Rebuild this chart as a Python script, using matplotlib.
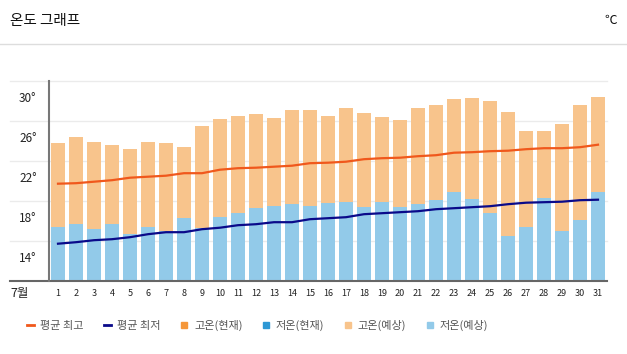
import numpy as np
from matplotlib import pyplot as plt
from matplotlib.lines import Line2D

plt.rcParams['font.family'] = ['Noto Sans CJK KR', 'DejaVu Sans']

# 데이터 (7월)
days = list(range(1, 32))
fc_high = [25.8, 26.4, 25.9, 25.6, 25.2, 25.9, 25.8, 25.4, 27.5, 28.2,
           28.5, 28.7, 28.3, 29.1, 29.1, 28.5, 29.3, 28.8, 28.4, 28.1,
           29.3, 29.6, 30.2, 30.3, 30.0, 28.9, 27.0, 27.0, 27.7, 29.6, 30.4]
fc_low = [17.4, 17.7, 17.2, 17.7, 16.7, 17.4, 17.0, 18.3, 17.3, 18.4,
          18.8, 19.3, 19.5, 19.7, 19.5, 19.8, 19.9, 19.4, 19.9, 19.4,
          19.7, 20.1, 20.9, 20.2, 18.8, 16.5, 17.4, 20.3, 17.0, 18.1, 20.9]
avg_high = [21.7, 21.75, 21.9, 22.05, 22.3, 22.4, 22.5, 22.75, 22.75, 23.1,
            23.25, 23.3, 23.4, 23.5, 23.75, 23.8, 23.9, 24.15, 24.25, 24.3,
            24.45, 24.55, 24.8, 24.85, 24.95, 25.0, 25.15, 25.25, 25.25, 25.35, 25.6]
avg_low = [15.7, 15.85, 16.05, 16.15, 16.35, 16.65, 16.85, 16.85, 17.15, 17.3,
           17.55, 17.65, 17.85, 17.85, 18.15, 18.25, 18.35, 18.65, 18.75, 18.85,
           18.95, 19.15, 19.25, 19.35, 19.45, 19.65, 19.8, 19.85, 19.9, 20.05, 20.1]
y_labels = ['14°', '18°', '22°', '26°', '30°']
legend_labels = ['평균 최고', '평균 최저', '고온(현재)', '저온(현재)', '고온(예상)', '저온(예상)']

c_hi_line = '#f0581c'
c_lo_line = '#0a0a8a'
c_hi_now = '#f5973a'
c_lo_now = '#2e98d4'
c_hi_fc = '#f8c48c'
c_lo_fc = '#92cae9'

base = 12
fig = plt.figure(figsize=(6.27, 3.54), dpi=100)
ax = fig.add_axes([49/627, 1-280.7/354, 558/627, 200/354])

x = np.arange(len(days))
ax.bar(x, np.array(fc_high)-base, bottom=base, width=0.8, color=c_hi_fc, zorder=2)
ax.bar(x, np.array(fc_low)-base, bottom=base, width=0.8, color=c_lo_fc, zorder=2)
ax.plot(x, avg_high, color=c_hi_line, lw=1.6, zorder=3)
ax.plot(x, avg_low, color=c_lo_line, lw=1.6, zorder=3)

ax.set_xlim(-0.5, len(days)-0.5)
ax.set_ylim(base, 32)

# 격자선 (왼쪽으로 조금 더 나감)
ytr = ax.get_yaxis_transform()
for g in [16, 20, 24, 28, 32]:
    ax.plot([-0.07, 1.0], [g, g], transform=ytr, color='#ebebeb', lw=1, zorder=1, clip_on=False)
ax.plot([-0.07, 1.0], [base, base], transform=ytr, color='#666666', lw=1.5, zorder=4, clip_on=False)

for s in ['top', 'right', 'bottom']:
    ax.spines[s].set_visible(False)
ax.spines['left'].set_color('#777777')
ax.spines['left'].set_linewidth(1.5)
ax.spines['left'].set_zorder(4)

ax.set_yticks([14.4, 18.4, 22.4, 26.4, 30.4], labels=y_labels)
ax.tick_params(axis='y', length=0, pad=9, labelsize=8.5, labelcolor='#222222')
ax.set_xticks(x, labels=[str(d) for d in days])
ax.tick_params(axis='x', length=0, pad=6, labelsize=6.5, labelcolor='#222222')
fig.text(20/627, 1-293/354, '7월', fontsize=9, ha='center', va='center', color='#222222')

# 제목
fig.text(10/627, 1-21/354, '온도 그래프', fontsize=10.5, ha='left', va='center', color='#111111')
fig.text(617/627, 1-20/354, '℃', fontsize=9, ha='right', va='center', color='#111111')
fig.add_artist(Line2D([0, 1], [1-44/354, 1-44/354], color='#dddddd', lw=1))

handles = [
    Line2D([], [], color=c_hi_line, lw=2),
    Line2D([], [], color=c_lo_line, lw=2),
    Line2D([], [], ls='', marker='s', ms=4.5, color=c_hi_now),
    Line2D([], [], ls='', marker='s', ms=4.5, color=c_lo_now),
    Line2D([], [], ls='', marker='s', ms=4.5, color=c_hi_fc),
    Line2D([], [], ls='', marker='s', ms=4.5, color=c_lo_fc),
]
fig.legend(handles, legend_labels, loc='center left', bbox_to_anchor=(17/627, 1-325.5/354),
           ncol=6, frameon=False, fontsize=8, handlelength=0.6, handletextpad=0.6,
           columnspacing=1.8, labelcolor='#555555')

fig.savefig('out.png', dpi=100)
